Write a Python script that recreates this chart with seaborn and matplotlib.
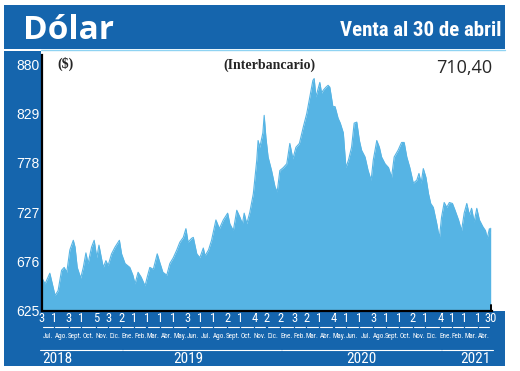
import sys
import numpy as np
import pandas as pd
import matplotlib
matplotlib.use("Agg")
import matplotlib.pyplot as plt
import matplotlib.dates as mdates
import matplotlib.transforms as mtransforms
from matplotlib.patches import Rectangle
from matplotlib.lines import Line2D
from matplotlib import font_manager
import seaborn as sns

# ---------------- data ----------------
start_date = "2018-07-03"
day_offsets = [0, 7, 18, 30, 37, 45, 51, 57, 64, 72, 76, 81, 89, 95, 101, 106, 114, 120, 126, 131,
               136, 141, 147, 152, 160, 168, 178, 183, 191, 202, 209, 214, 221, 228, 237, 242, 248, 256,
               265, 271, 278, 287, 294, 302, 310, 317, 325, 331, 336, 344, 348, 356, 363, 371, 375, 383,
               390, 400, 408, 417, 427, 432, 440, 448, 455, 461, 465, 471, 478, 486, 494, 497, 501, 508,
               511, 515, 520, 528, 536, 541, 547, 555, 563, 570, 577, 584, 592, 601, 609, 616, 623, 626,
               630, 636, 639, 643, 647, 653, 658, 662, 669, 674, 681, 686, 693, 699, 705, 712, 718, 724,
               730, 735, 743, 750, 757, 762, 770, 776, 781, 789, 797, 804, 810, 819, 827, 833, 839, 846,
               854, 862, 867, 872, 877, 883, 889, 894, 900, 908, 914, 919, 925, 931, 937, 944, 950, 958,
               965, 971, 977, 983, 988, 994, 1000, 1006, 1014, 1020, 1024, 1029, 1031, 1032]
rates = [659, 653, 664, 641, 646, 667, 670, 665, 688, 698, 691, 670, 659, 670, 685, 674, 691, 698, 680, 693,
         681, 670, 677, 672, 684, 691, 698, 684, 674, 670, 662, 653, 665, 660, 651, 660, 670, 668,
         684, 675, 665, 662, 674, 680, 688, 696, 701, 710, 696, 700, 701, 684, 680, 690, 682, 688,
         698, 719, 710, 719, 726, 715, 708, 729, 722, 715, 726, 715, 727, 746, 781, 801, 794, 809,
         827, 804, 784, 770, 753, 748, 770, 773, 777, 798, 782, 794, 798, 815, 829, 846, 863, 865,
         846, 856, 861, 850, 853, 856, 858, 856, 836, 836, 824, 819, 809, 773, 781, 794, 819, 820,
         801, 791, 784, 770, 760, 781, 801, 794, 784, 777, 773, 763, 784, 791, 799, 799, 784, 773,
         757, 760, 767, 757, 772, 763, 746, 736, 732, 715, 700, 722, 737, 732, 737, 736, 729, 719,
         708, 726, 736, 724, 731, 717, 731, 719, 712, 708, 700, 710, 705, 710.4]
last_value_label = "710,40"
y_ticks = [625, 676, 727, 778, 829, 880]
first_month = "2018-07"
tick_day_labels = ["3", "1", "3", "1", "5", "3",
                   "2", "1", "1", "1", "1", "3", "1", "1", "2", "1", "4", "2",
                   "2", "3", "2", "1", "4", "1", "1", "3", "1", "1", "2", "1",
                   "4", "1", "1", "1", "30"]
month_labels = ["Jul.", "Ago.", "Sept.", "Oct.", "Nov.", "Dic.",
                "Ene.", "Feb.", "Mar.", "Abr.", "May.", "Jun.", "Jul.", "Ago.", "Sept.", "Oct.", "Nov.", "Dic.",
                "Ene.", "Feb.", "Mar.", "Abr.", "May.", "Jun.", "Jul.", "Ago.", "Sept.", "Oct.", "Nov.", "Dic.",
                "Ene.", "Feb.", "Mar.", "Abr."]
year_labels = ["2018", "2019", "2020", "2021"]
year_month_counts = [6, 12, 12, 4]
year_label_dates = ["2018-07-03", "2019-06-05", "2020-07-06", "2021-04-30"]
year_label_align = ["left", "center", "center", "right"]

# ---------------- fonts ----------------
sns.set_style("white")
avail = {f.name for f in font_manager.fontManager.ttflist}


def pick(*names):
    for n in names:
        if n in avail:
            return n
    return None


NARROW = pick("Liberation Sans Narrow", "DejaVu Sans Condensed", "Roboto Condensed", "Open Sans Condensed")
SANS = pick("Liberation Sans", "DejaVu Sans")
SERIF = pick("Liberation Serif", "DejaVu Serif")
HUMAN = pick("Open Sans", "Lato", "DejaVu Sans")
if NARROW is None:
    NARROW = SANS
plt.rcParams["font.family"] = [SANS, "DejaVu Sans"]

DARK = "#1565ad"
FILL = "#56b4e4"
LIGHT = "#8fd3f2"
W, H = 520, 371


def fx(x):
    return x / W


def fy(y):
    return 1 - y / H


fig = plt.figure(figsize=(W / 100, H / 100), dpi=100, facecolor="white")


def band(x0, y0, x1, y1, color):
    fig.add_artist(Rectangle((fx(x0), fy(y1)), (x1 - x0) / W, (y1 - y0) / H,
                             transform=fig.transFigure, facecolor=color, edgecolor="none", zorder=0))


band(4, 5, 505, 49, DARK)
band(4, 51, 41, 366, DARK)
band(4, 311, 505, 366, DARK)
fig.add_artist(Line2D([fx(41), fx(505)], [fy(50), fy(50)], color=LIGHT, lw=1.0,
                      transform=fig.transFigure))

ax = fig.add_axes([fx(42), fy(311), 450 / W, 256 / H])
ax.set_facecolor("white")

start = pd.Timestamp(start_date)
dates = start + pd.to_timedelta(day_offsets, unit="D")
df = pd.DataFrame({"fecha": dates, "dolar": rates})
sns.lineplot(data=df, x="fecha", y="dolar", ax=ax, color=FILL, lw=0.8)
ax.fill_between(df["fecha"], df["dolar"], y_ticks[0], color=FILL, lw=0)

ax.set_xlim(start, start + pd.Timedelta(days=1035))
ax.set_ylim(y_ticks[0], y_ticks[0] + 256 * (y_ticks[-1] - y_ticks[0]) / 247.0)
ax.set_xlabel("")
ax.set_ylabel("")

# y axis
ax.set_yticks(y_ticks)
ax.set_yticklabels([str(v) for v in y_ticks])
ax.tick_params(axis="y", direction="in", length=7, width=1.6, color="black",
               labelcolor="white", labelsize=10, pad=2)
for s in ["top", "right"]:
    ax.spines[s].set_visible(False)
for s in ["left", "bottom"]:
    ax.spines[s].set_color("black")
    ax.spines[s].set_linewidth(1.6)

# x axis: day numbers of the first business day of each month
months = pd.period_range(first_month, periods=len(month_labels), freq="M")
tick_dates = [pd.Timestamp(year=m.year, month=m.month, day=int(d))
              for m, d in zip(months, tick_day_labels[:-1])]
tick_dates.append(pd.Timestamp(year=months[-1].year, month=months[-1].month, day=int(tick_day_labels[-1])))
ax.set_xticks(tick_dates)
ax.set_xticklabels(tick_day_labels)
ax.tick_params(axis="x", length=0, pad=1, labelcolor="white", labelsize=9)
for lbl in ax.get_xticklabels():
    lbl.set_family(NARROW)
ax.axvline(dates[-1], ymin=0, ymax=0.025, color="black", lw=1.4)

tnum = mdates.date2num(tick_dates)
trans = mtransforms.blended_transform_factory(ax.transData, fig.transFigure)
for i, lab in enumerate(month_labels):
    a, b = tnum[i], tnum[i + 1]
    fig.add_artist(Line2D([a + 2, b - 3], [fy(327), fy(327)], color="white", lw=0.8, transform=trans))
    fig.text((a + b) / 2 - 1, fy(337), lab, transform=trans, ha="center", va="center",
             color="white", fontsize=5.1, family=NARROW)

bounds = np.concatenate([[0], np.cumsum(year_month_counts)])
for k, (yl, yd, al) in enumerate(zip(year_labels, year_label_dates, year_label_align)):
    a, b = tnum[bounds[k]], tnum[bounds[k + 1]]
    fig.add_artist(Line2D([a - 4 if k == 0 else a + 4, b + 2 if k < 3 else b + 6],
                          [fy(350), fy(350)], color="white", lw=0.8, transform=trans))
    fig.text(mdates.date2num(pd.Timestamp(yd)), fy(359), yl, transform=trans, ha=al, va="center",
             color="white", fontsize=11, family=NARROW)

# titles and annotations
fig.text(fx(23), fy(39), "Dólar", fontsize=24, weight="bold", color="white", family=HUMAN, va="baseline")
fig.text(fx(502), fy(36), "Venta al 30 de abril", fontsize=15, weight="bold", color="white",
         family=NARROW, ha="right", va="baseline")
fig.text(fx(66), fy(64), "($)", fontsize=10, weight="bold", family=SERIF, ha="center", va="center")
fig.text(fx(269), fy(65), "(Interbancario)", fontsize=10, weight="bold", family=SERIF,
         ha="center", va="center")
fig.text(fx(464), fy(68), last_value_label, fontsize=13, family=HUMAN, ha="center", va="center")

fig.savefig("out.png", dpi=100, facecolor="white")
